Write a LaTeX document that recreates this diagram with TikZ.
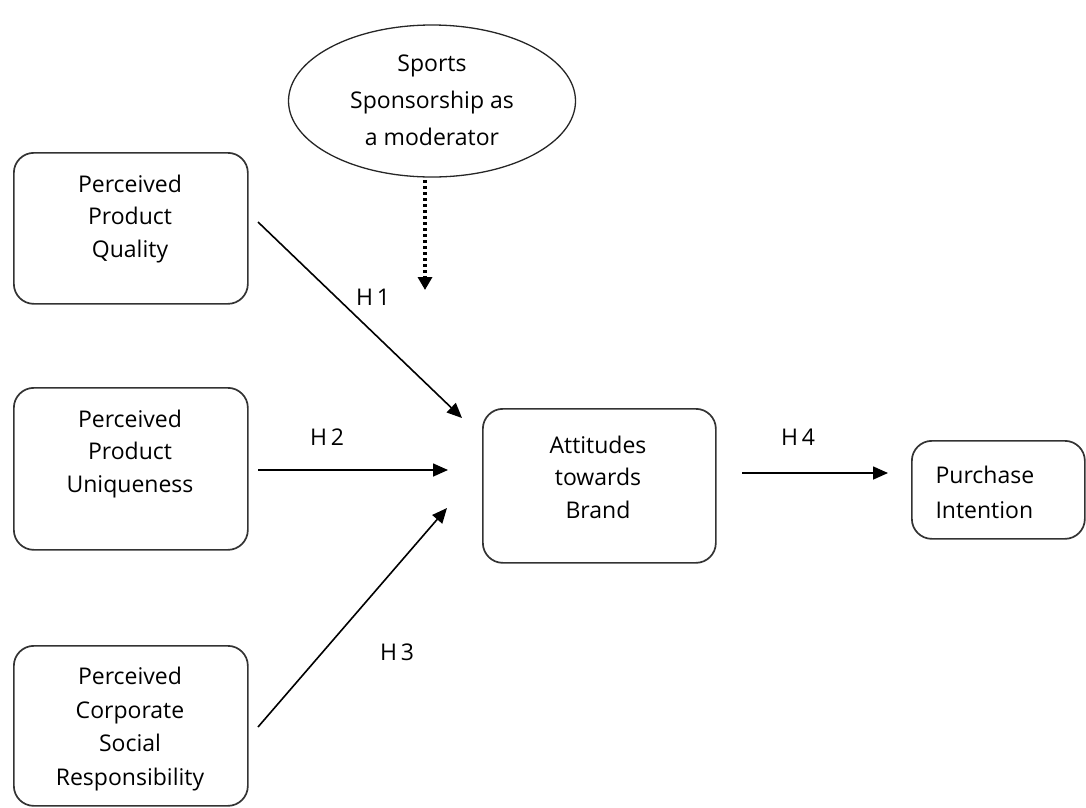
\documentclass[tikz,border=0pt]{standalone}
\usepackage{fontspec}
\setmainfont{Open Sans}
\usetikzlibrary{shapes.geometric,arrows.meta}
\begin{document}
\begin{tikzpicture}[x=1pt,y=-1pt,
  every node/.style={font=\fontsize{23}{32.5}\selectfont,align=center},
  box/.style={draw=black!80,line width=1.7pt,rounded corners=20pt,inner sep=0pt},
  arr/.style={line width=1.6pt,-{Triangle[length=15pt,width=13pt]}},
  lbl/.style={inner sep=0pt}]
\useasboundingbox (0,0) rectangle (1086,807);
\node[box,minimum width=234pt,minimum height=151pt,anchor=north west] (q) at (13,152) {};
\node (qt) at (130,219) {Perceived\\Product\\Quality};
\node[box,minimum width=234pt,minimum height=162pt,anchor=north west] (u) at (13,387) {};
\node (ut) at (130,454) {Perceived\\Product\\Uniqueness};
\node[box,minimum width=234pt,minimum height=160pt,anchor=north west] (c) at (13,645) {};
\node[font=\fontsize{23}{33.5}\selectfont] (ct) at (130,729) {Perceived\\Corporate\\Social\\Responsibility};
\node[box,minimum width=233pt,minimum height=154pt,anchor=north west] (a) at (482,408) {};
\node (at) at (598,477) {Attitudes\\towards\\Brand};
\node[box,minimum width=173pt,minimum height=98pt,anchor=north west] (p) at (911,440) {};
\node[anchor=west,align=left,font=\fontsize{23}{35}\selectfont] (pt) at (932,492) {Purchase\\Intention};
\node[draw=black!85,line width=1.3pt,ellipse,minimum width=287pt,minimum height=152pt,inner sep=0pt] (s) at (432,101) {};
\node[font=\fontsize{23}{37}\selectfont] (st) at (432,100) {Sports\\Sponsorship as\\a moderator};
\coordinate (h1s) at (258,222); \coordinate (h1e) at (462,418);
\coordinate (h2s) at (258,470); \coordinate (h2e) at (448,470);
\coordinate (h3s) at (258,727); \coordinate (h3e) at (447,508);
\coordinate (h4s) at (742,473); \coordinate (h4e) at (888,473);
\coordinate (m1) at (425,180); \coordinate (m2) at (425,290);
\draw[arr] (h1s) -- (h1e);
\draw[arr] (h2s) -- (h2e);
\draw[arr] (h3s) -- (h3e);
\draw[arr] (h4s) -- (h4e);
\draw[line width=3.5pt,dash pattern=on 3pt off 3pt,-{Triangle[length=13pt,width=14pt]}] (m1) -- (m2);
\node[lbl] (l1) at (373,297) {H\,1};
\node[lbl] (l2) at (327,437) {H\,2};
\node[lbl] (l3) at (397,652) {H\,3};
\node[lbl] (l4) at (798,437) {H\,4};
\end{tikzpicture}
\end{document}
